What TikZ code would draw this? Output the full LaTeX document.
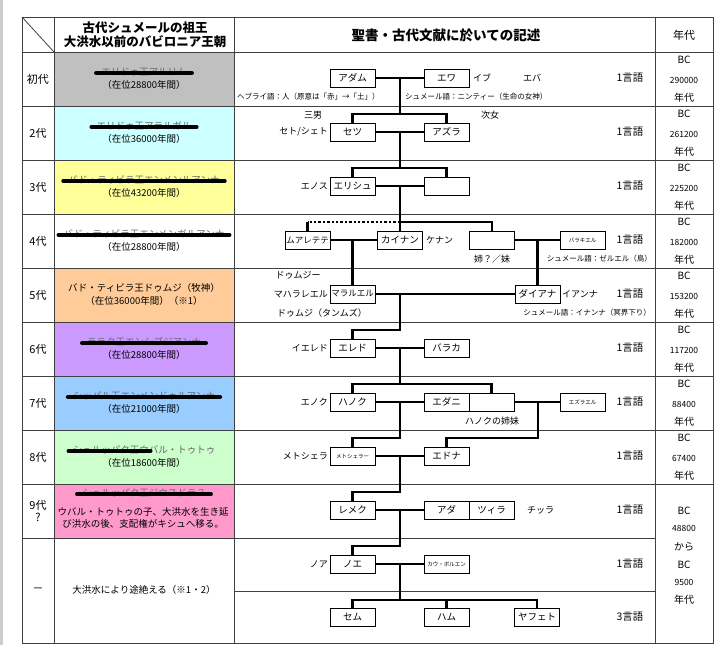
\documentclass[tikz,border=0pt]{standalone}
\usepackage{fontspec}
\setmainfont{Noto Sans CJK JP}
\usetikzlibrary{calc}
\definecolor{gen1}{RGB}{192,192,192}
\definecolor{gen2}{RGB}{204,255,255}
\definecolor{gen3}{RGB}{255,255,153}
\definecolor{gen4}{RGB}{255,255,255}
\definecolor{gen5}{RGB}{255,204,153}
\definecolor{gen6}{RGB}{204,153,255}
\definecolor{gen7}{RGB}{153,204,255}
\definecolor{gen8}{RGB}{204,255,204}
\definecolor{gen9}{RGB}{255,153,204}
\tikzset{
	person/.style={draw, fill=white, line width=0.7pt, minimum width=45pt, minimum height=18pt, inner sep=0pt, font=\fontsize{9.5}{10}\selectfont},
	narrow/.style={font=\fontsize{8.5}{9}\selectfont},
	small/.style={font=\fontsize{5.5}{6}\selectfont},
	tree/.style={line width=2.4pt},
	grid/.style={draw=black!75, line width=0.8pt},
	note/.style={inner sep=1pt, font=\fontsize{9}{10}\selectfont},
	fine/.style={inner sep=1pt, font=\fontsize{7.5}{8}\selectfont},
	king/.style={inner sep=1pt, font=\fontsize{9.5}{10}\selectfont},
	label/.style={inner sep=1pt, font=\fontsize{11}{12}\selectfont},
	lang/.style={inner sep=1pt, font=\fontsize{10.5}{11}\selectfont},
	bc/.style={inner sep=1pt, font=\fontsize{10}{11}\selectfont},
	num/.style={inner sep=1pt, font=\fontsize{8.5}{9}\selectfont},
	strike/.style={line width=4pt, line cap=round},
	head/.style={inner sep=1pt, align=center, font=\bfseries\fontsize{12.5}{14.5}\selectfont}
}
\begin{document}
\begin{tikzpicture}[x=1pt, y=-1pt]
	\useasboundingbox (0,0) rectangle (723,645);
	\fill[black!20] (0,0) rectangle (2.5,645);
	\foreach \c [count=\i] in {gen1,gen2,gen3,gen4,gen5,gen6,gen7,gen8,gen9}
		\fill[\c] (54,{52+54*(\i-1)}) rectangle (234,{106+54*(\i-1)});

	\draw[grid] (22,17) rectangle (713,643);
	\foreach \y in {52,106,...,484}
		\draw[grid] (22,\y) -- (713,\y);
	\draw[grid] (22,538) -- (655,538);
	\draw[grid] (234,591) -- (655,591);
	\foreach \x in {54,234,655}
		\draw[grid] (\x,17) -- (\x,643);
	\draw[grid] (22,17) -- (54,52);

	\node[head] (hking) at (145,35) {古代シュメールの祖王\\大洪水以前のバビロニア王朝};
	\node[head, font=\bfseries\fontsize{13.5}{15}\selectfont] (hbible) at (446,35) {聖書・古代文献に於いての記述};
	\node[label] (hyear) at (684,35) {年代};

	\foreach \t [count=\i] in {初代,2代,3代,4代,5代,6代,7代,8代}
		\node[label] (gen\i) at (38,{79+54*(\i-1)}) {\t};
	\node[label, align=center] (gen9) at (38,511) {9代\\?};
	\node[label] (gen10) at (38,590) {－};

	\foreach \i/\nm/\yr in {1/エリドゥ王アルリム/28800, 2/エリドゥ王アラルガル/36000, 3/バド・ティビラ王エンメンルアンナ/43200, 4/バド・ティビラ王エンメンガルアンナ/28800, 6/ララク王エンシブジアンナ/28800, 7/シッパル王エンメンドゥルアンナ/21000} {
		\node[king, text=black!60] (name\i) at (144,{72+54*(\i-1)}) {\nm};
		\node[king] (reign\i) at (144,{85+54*(\i-1)}) {（在位\yr 年間）};
		\draw[strike] ([xshift=-4pt, yshift=-1pt]name\i.west) -- ([xshift=4pt, yshift=-1pt]name\i.east);
	}
	\node[king] (name5) at (144,288) {バド・ティビラ王ドゥムジ（牧神）};
	\node[king] (reign5) at (144,301) {（在位36000年間）（※1）};
	\node[king, text=black!60] (name8) at (144,450) {シュルッパク王ウバル・トゥトゥ};
	\node[king] (reign8) at (144,463) {（在位18600年間）};
	\draw[strike] ([xshift=-3pt, yshift=-1pt]name8.west) -- ++(82,0);
	\node[king, text=black!60] (name9) at (144,493) {シュルッパク王ジウスドラ？};
	\draw[strike] ([xshift=-4pt, yshift=-1pt]name9.west) -- ([xshift=4pt, yshift=-1pt]name9.east);
	\node[king, align=center, font=\fontsize{9.5}{12.5}\selectfont] (reign9) at (143,518) {ウバル・トゥトゥの子、大洪水を生き延\\び洪水の後、支配権がキシュへ移る。};
	\node[king] (name10) at (144,590) {大洪水により途絶える（※1・2）};

	\node[person] (adam) at (352.5,78) {アダム};
	\node[person] (eva) at (446.5,78) {エワ};
	\node[person] (seth) at (352.5,132) {セツ};
	\node[person] (azura) at (446.5,132) {アズラ};
	\node[person] (elish) at (352.5,186) {エリシュ};
	\node[person] (sis3) at (446.5,186) {};
	\node[person, narrow] (muar) at (307.5,240) {ムアレテテ};
	\node[person] (kainan) at (400,240) {カイナン};
	\node[person] (sis4) at (492,240) {};
	\node[person, small] (baraki) at (582.5,240) {バラキエル};
	\node[person, narrow] (maral) at (352.5,294) {マラルエル};
	\node[person] (diana) at (537.5,294) {ダイアナ};
	\node[person] (ered) at (352.5,348) {エレド};
	\node[person] (baraka) at (446.5,348) {バラカ};
	\node[person] (hanok) at (352.5,402) {ハノク};
	\node[person] (edani) at (446.5,402) {エダニ};
	\node[person] (sis7) at (491.5,402) {};
	\node[person, small] (ezrael) at (582.5,402) {エズラエル};
	\node[person, small] (methu) at (352.5,456) {メトシェラー};
	\node[person] (edna) at (446.5,456) {エドナ};
	\node[person] (lemek) at (352.5,510) {レメク};
	\node[person] (ada) at (446.5,510) {アダ};
	\node[person] (zilla) at (491.5,510) {ツィラ};
	\node[person] (noe) at (352.5,564) {ノエ};
	\node[person, small] (kau) at (446.5,564) {カウ・ボルエン};
	\node[person] (sem) at (352.5,617) {セム};
	\node[person] (ham) at (446.5,617) {ハム};
	\node[person] (japheth) at (537,617) {ヤフェト};

	\coordinate (j1) at (400,78);
	\coordinate (b2) at (400,114);
	\coordinate (j2) at (400,132);
	\coordinate (b3) at (400,168);
	\coordinate (j3) at (400,186);
	\coordinate (b4) at (400,222);
	\coordinate (j5) at (400,294);
	\coordinate (b6) at (400,330);
	\coordinate (j6) at (400,348);
	\coordinate (b7) at (400,384);
	\coordinate (j7) at (400,402);
	\coordinate (b8) at (400,438);
	\coordinate (k7) at (538,402);
	\coordinate (k8) at (538,438);
	\coordinate (j8) at (400,456);
	\coordinate (b9) at (400,492);
	\coordinate (j9) at (400,510);
	\coordinate (b10) at (400,546);
	\coordinate (j10) at (400,564);
	\coordinate (b11) at (400,600);

	\draw[tree] (adam.east) -- (eva.west);
	\draw[tree] (j1) -- (b2);
	\draw[tree] (seth.north) |- (b2) -| (azura.north);
	\draw[tree] (seth.east) -- (azura.west);
	\draw[tree] (j2) -- (b3);
	\draw[tree] (elish.north) |- (b3) -| (sis3.north);
	\draw[tree] (elish.east) -- (sis3.west);
	\draw[tree] (j3) -- (kainan.north);
	\draw[tree] (b4) -| (sis4.north);
	\draw[tree, dotted] (b4) -- (b4 -| muar.north);
	\draw[tree] (b4 -| muar.north) -- (muar.north);
	\draw[tree] (muar.east) -- (kainan.west);
	\draw[tree] (sis4.east) -- (baraki.west);
	\draw[tree] (maral.north) -- (maral.north |- muar.east);
	\draw[tree] (diana.north) -- (diana.north |- baraki.west);
	\draw[tree] (maral.east) -- (diana.west);
	\draw[tree] (j5) -- (b6) -| (ered.north);
	\draw[tree] (ered.east) -- (baraka.west);
	\draw[tree] (j6) -- (b7);
	\draw[tree] (hanok.north) |- (b7) -| (sis7.north);
	\draw[tree] (hanok.east) -- (edani.west);
	\draw[tree] (sis7.east) -- (ezrael.west);
	\draw[tree] (j7) -- (b8) -| (methu.north);
	\draw[tree] (k7) -- (k8) -| (edna.north);
	\draw[tree] (methu.east) -- (edna.west);
	\draw[tree] (j8) -- (b9) -| (lemek.north);
	\draw[tree] (lemek.east) -- (ada.west);
	\draw[tree] (j9) -- (b10) -| (noe.north);
	\draw[tree] (noe.east) -- (kau.west);
	\draw[tree] (j10) -- (b11);
	\draw[tree] (sem.north) |- (b11) -| (japheth.north);
	\draw[tree] (b11 -| ham.north) -- (ham.north);

	\node[note, anchor=west] (eve1) at (472,78) {イブ};
	\node[note, anchor=west] (eve2) at (522,78) {エバ};
	\node[fine, anchor=west] (hebrew) at (236,97) {ヘブライ語：人（原意は「赤」→「土」）};
	\node[fine, anchor=west] (ninti) at (404,97) {シュメール語：ニンティー（生命の女神）};
	\node[note] (third) at (313,115) {三男};
	\node[note, anchor=east] (sethalt) at (329,132) {セト/シェト};
	\node[note] (second) at (490,115) {次女};
	\node[note, anchor=east] (enos) at (329,186) {エノス};
	\node[note, anchor=west] (kenan) at (425,240) {ケナン};
	\node[note] (sister) at (492,259) {姉？／妹};
	\node[fine, anchor=east] (zeruel) at (653,259) {シュメール語：ゼルエル（鳥）};
	\node[note] (dumuzi1) at (298,275) {ドゥムジー};
	\node[note, anchor=east] (mahal) at (329,294) {マハラレエル};
	\node[note] (dumuzi2) at (322,313) {ドゥムジ（タンムズ）};
	\node[note, anchor=west] (ianna) at (561,294) {イアンナ};
	\node[fine, anchor=east] (inanna) at (652,313) {シュメール語：イナンナ（冥界下り）};
	\node[note, anchor=east] (iered) at (329,348) {イエレド};
	\node[note, anchor=east] (enoch) at (329,402) {エノク};
	\node[note] (hsister) at (492,421) {ハノクの姉妹};
	\node[note, anchor=east] (methal) at (329,456) {メトシェラ};
	\node[note, anchor=west] (chilla) at (526,510) {チッラ};
	\node[note, anchor=east] (noah) at (329,564) {ノア};

	\foreach \y [count=\i] in {78,132,...,564}
		\node[lang] (lang\i) at (630,\y) {1言語};
	\node[lang] (lang11) at (630,617) {3言語};

	\foreach \yr [count=\i] in {290000,261200,225200,182000,153200,117200,88400,67400} {
		\node[bc] (bc\i) at (684,{60+54*(\i-1)}) {BC};
		\node[num] (yr\i) at (684,{80+54*(\i-1)}) {\yr};
		\node[bc] (era\i) at (684,{98+54*(\i-1)}) {年代};
	}
	\node[bc] (bc9) at (684,511) {BC};
	\node[num] (yr9) at (684,528) {48800};
	\node[bc] (from9) at (684,547) {から};
	\node[bc] (bc10) at (684,565) {BC};
	\node[num] (yr10) at (684,582) {9500};
	\node[bc] (era9) at (684,600) {年代};
\end{tikzpicture}
\end{document}
